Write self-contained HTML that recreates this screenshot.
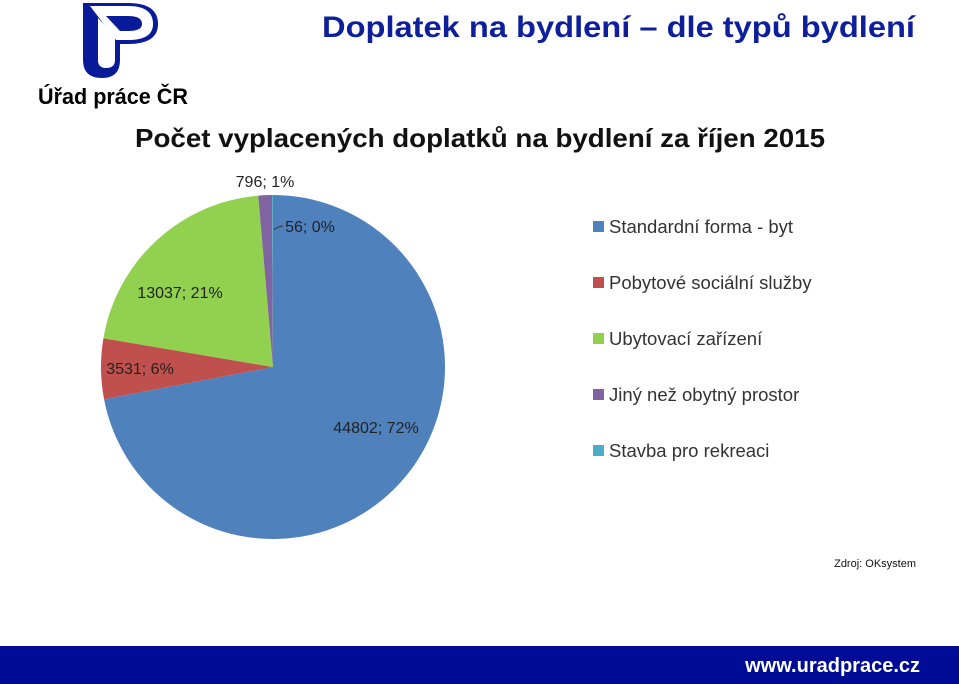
<!DOCTYPE html>
<html><head><meta charset="utf-8"><style>
html,body{margin:0;padding:0;background:#fff;width:959px;height:684px;overflow:hidden}
svg{display:block}
</style></head><body>
<svg width="959" height="684" viewBox="0 0 959 684" xmlns="http://www.w3.org/2000/svg" font-family="Liberation Sans, sans-serif">
  <g>
    <path d="M83,3 L128,3 Q158,3 158,24 Q158,44 128,44 L120,44 L120,60 Q120,78 102,78 Q83,78 83,60 Z" fill="#0a1b9a"/>
    <path d="M90,6 L128,6 Q153,6 153,24 Q153,40 128,40 L116,40 Z" fill="#fff"/>
    <path d="M98,18 L115,36 L115,60 Q115,68 106,68 Q98,68 98,60 Z" fill="#fff"/>
    <path d="M106,16 L128,16 Q142,16 142,24 Q142,31 128,31 L120,31 Z" fill="#0a1b9a"/>
    <text x="38" y="104" font-size="22" font-weight="bold" fill="#000" textLength="150" lengthAdjust="spacingAndGlyphs">Úřad práce ČR</text>
  </g>
  <text x="322" y="37" font-size="30" font-weight="bold" fill="#0e1f9c" textLength="593" lengthAdjust="spacingAndGlyphs">Doplatek na bydlení – dle typů bydlení</text>
  <text x="135" y="147" font-size="26" font-weight="bold" fill="#111" textLength="690" lengthAdjust="spacingAndGlyphs">Počet vyplacených doplatků na bydlení za říjen 2015</text>
  <g id="pie"></g>
  <g id="legend"></g>
  <text x="916" y="567" font-size="11" fill="#111" text-anchor="end">Zdroj: OKsystem</text>
  <rect x="0" y="646" width="959" height="38" fill="#000c96"/>
  <text x="920" y="672" font-size="20" font-weight="bold" fill="#fff" text-anchor="end">www.uradprace.cz</text>
</svg>
<script>
const categories = ["Standardní forma - byt","Pobytové sociální služby","Ubytovací zařízení","Jiný než obytný prostor","Stavba pro rekreaci"];
const values = [44802, 3531, 13037, 796, 56];
const percentLabels = ["72%","6%","21%","1%","0%"];
const colors = ["#4f81bd","#c0504d","#92d050","#8064a2","#4bacc6"];
const NS="http://www.w3.org/2000/svg";
const cx=273, cy=367, r=172;
const pie=document.getElementById('pie');
const total=values.reduce((a,b)=>a+b,0);
function pt(a,rr){return [cx+rr*Math.sin(a), cy-rr*Math.cos(a)];}
let start=0;
const labelPos=[[376,433],[140,374],[180,298],[265,187],[310,232]];
values.forEach((v,i)=>{
  const ang=v/total*2*Math.PI, end=start+ang;
  const p0=pt(start,r), p1=pt(end,r);
  const path=document.createElementNS(NS,'path');
  path.setAttribute('d',`M${cx},${cy} L${p0[0]},${p0[1]} A${r},${r} 0 ${ang>Math.PI?1:0} 1 ${p1[0]},${p1[1]} Z`);
  path.setAttribute('fill',colors[i]);
  
  
  pie.appendChild(path);
  start=end;
});
values.forEach((v,i)=>{
  const t=document.createElementNS(NS,'text');
  t.setAttribute('x',labelPos[i][0]);t.setAttribute('y',labelPos[i][1]);
  t.setAttribute('font-size','16');t.setAttribute('fill','#222');t.setAttribute('text-anchor','middle');
  t.textContent=v+'; '+percentLabels[i];
  
  
  pie.appendChild(t);
});
const lead=document.createElementNS(NS,'path');
lead.setAttribute('d','M274,230 Q276,227 283,226');lead.setAttribute('stroke','#333');lead.setAttribute('fill','none');


pie.appendChild(lead);
const lg=document.getElementById('legend');
categories.forEach((c,i)=>{
  const y=227+i*56;
  const s=document.createElementNS(NS,'rect');
  s.setAttribute('x',593);s.setAttribute('y',y-6);s.setAttribute('width',11);s.setAttribute('height',11);s.setAttribute('fill',colors[i]);
  
  
  lg.appendChild(s);
  const t=document.createElementNS(NS,'text');
  t.setAttribute('x',609);t.setAttribute('y',y+6);t.setAttribute('font-size','18.5');t.setAttribute('fill','#333');
  t.textContent=c;
  
  
  lg.appendChild(t);
});
</script>
</body></html>
